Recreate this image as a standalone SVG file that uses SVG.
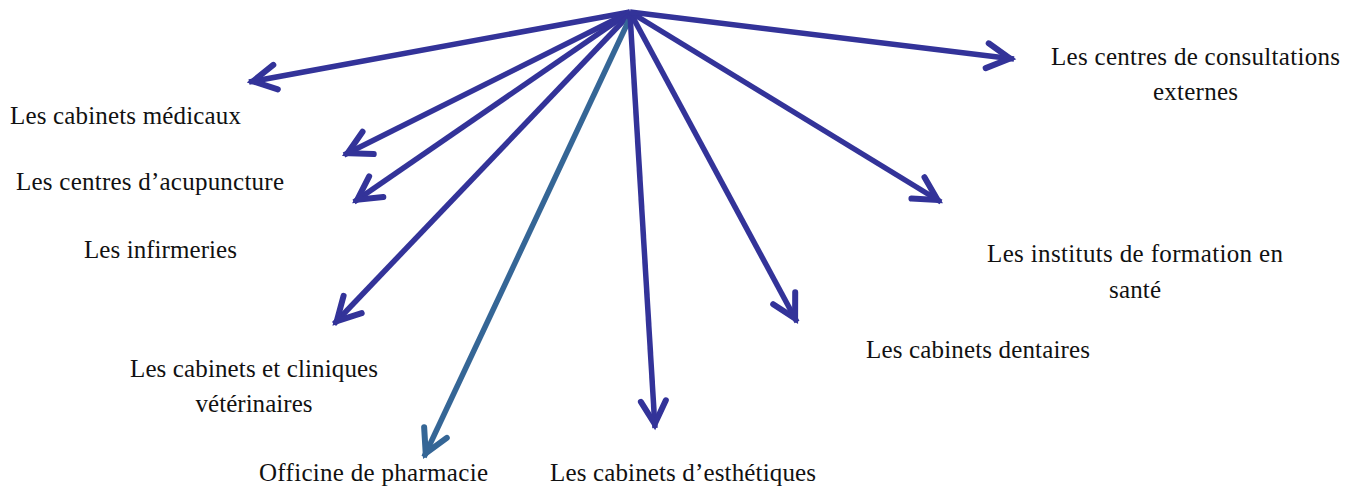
<svg xmlns="http://www.w3.org/2000/svg" width="1357" height="491" viewBox="0 0 1357 491">
<style>
  .lbl { font-family: "Liberation Serif", "Times New Roman", serif; font-size: 25px; fill: #111111; text-anchor: middle; }
  .conn { fill: none; stroke: #333399; stroke-width: 5.5; stroke-linecap: butt; }
  .conn.teal { stroke: #356696; }
</style>
<defs>
  <marker id="ah" markerUnits="userSpaceOnUse" orient="auto" markerWidth="60" markerHeight="60" viewBox="-30 -30 60 60" refX="4" refY="0" overflow="visible">
    <path d="M-23,-12.5 L0,0 L-23,12.5" fill="none" stroke="#333399" stroke-width="6" stroke-linecap="round" stroke-linejoin="miter"/>
  </marker>
  <marker id="ahT" markerUnits="userSpaceOnUse" orient="auto" markerWidth="60" markerHeight="60" viewBox="-30 -30 60 60" refX="4" refY="0" overflow="visible">
    <path d="M-23,-12.5 L0,0 L-23,12.5" fill="none" stroke="#356696" stroke-width="6" stroke-linecap="round" stroke-linejoin="miter"/>
  </marker>
</defs>
<rect width="1357" height="491" fill="#ffffff"/>
<g id="connectors">
  <line class="conn" x1="630" y1="12" x2="249" y2="82" marker-end="url(#ah)"/>
  <line class="conn" x1="630" y1="12" x2="344" y2="155" marker-end="url(#ah)"/>
  <line class="conn" x1="630" y1="12" x2="354" y2="202" marker-end="url(#ah)"/>
  <line class="conn" x1="630" y1="14" x2="334" y2="324" marker-end="url(#ah)"/>
  <line class="conn teal" x1="629" y1="20" x2="424" y2="457" marker-end="url(#ahT)"/>
  <line class="conn" x1="630" y1="14" x2="655" y2="428" marker-end="url(#ah)"/>
  <line class="conn" x1="630" y1="12" x2="797" y2="322" marker-end="url(#ah)"/>
  <line class="conn" x1="630" y1="12" x2="941" y2="202" marker-end="url(#ah)"/>
  <line class="conn" x1="630" y1="12" x2="1014" y2="59" marker-end="url(#ah)"/>
</g>
<g id="node-cabinets-medicaux"><text class="lbl" x="125.5" y="124" textLength="231">Les cabinets médicaux</text></g>
<g id="node-acupuncture"><text class="lbl" x="150" y="190" textLength="268">Les centres d’acupuncture</text></g>
<g id="node-infirmeries"><text class="lbl" x="160.5" y="258" textLength="153">Les infirmeries</text></g>
<g id="node-veterinaires">
  <text class="lbl" x="254" y="377" textLength="248">Les cabinets et cliniques</text>
  <text class="lbl" x="254" y="412" textLength="117">vétérinaires</text>
</g>
<g id="node-pharmacie"><text class="lbl" x="373.5" y="481" textLength="229">Officine de pharmacie</text></g>
<g id="node-esthetiques"><text class="lbl" x="683" y="481" textLength="266">Les cabinets d’esthétiques</text></g>
<g id="node-dentaires"><text class="lbl" x="978" y="358" textLength="224">Les cabinets dentaires</text></g>
<g id="node-instituts">
  <text class="lbl" x="1135" y="262" textLength="296">Les instituts de formation en</text>
  <text class="lbl" x="1135" y="298" textLength="52">santé</text>
</g>
<g id="node-consultations">
  <text class="lbl" x="1195.5" y="65" textLength="289">Les centres de consultations</text>
  <text class="lbl" x="1195.5" y="100" textLength="85">externes</text>
</g>
</svg>
